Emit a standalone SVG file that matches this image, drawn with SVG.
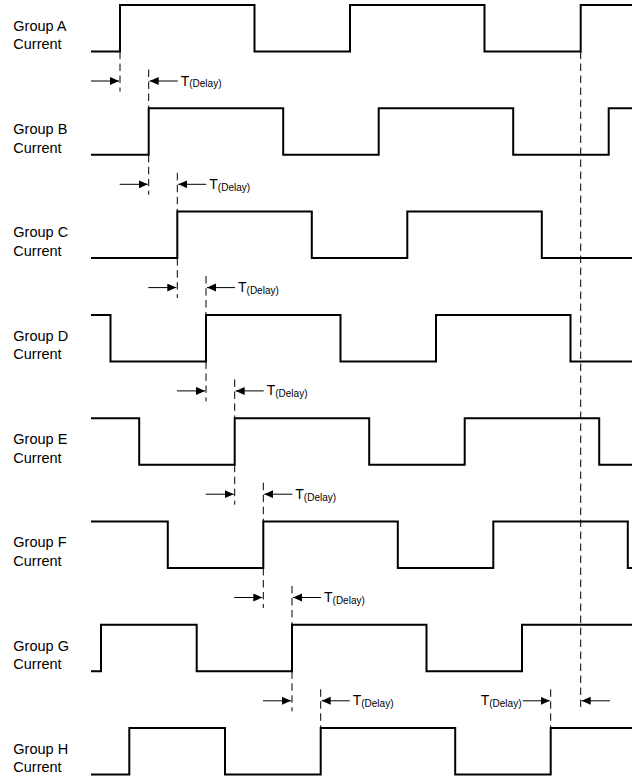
<svg xmlns="http://www.w3.org/2000/svg" width="632" height="777" viewBox="0 0 632 777">
<style>
.wave{fill:none;stroke:#000;stroke-width:2;stroke-linejoin:miter}
.lbl{font-family:"Liberation Sans",Arial,sans-serif;font-size:14.5px;fill:#000}
.dash{fill:none;stroke:#000;stroke-width:1;stroke-dasharray:7.5 4.5}
.arr{fill:none;stroke:#000;stroke-width:1;marker-end:url(#ah)}
.td{font-family:"Liberation Sans",Arial,sans-serif;font-size:14px;fill:#000}
.sub{font-size:10px}
</style>
<defs>
<marker id="ah" markerUnits="userSpaceOnUse" markerWidth="10" markerHeight="9" refX="9" refY="4" orient="auto">
<path d="M0,0 L9,4 L0,8 z" fill="#000"/>
</marker>
</defs>
<rect width="632" height="777" fill="#fff"/>
<g id="group-a">
<text class="lbl" x="13.3" y="30.7">Group A</text><text class="lbl" x="13.3" y="49.3">Current</text>
<path class="wave" d="M91,51.5 H120 V5 H254.5 V51.5 H350 V5 H484.5 V51.5 H580.7 V5 H632"/>
</g>
<g id="group-b">
<text class="lbl" x="13.3" y="134">Group B</text><text class="lbl" x="13.3" y="152.6">Current</text>
<path class="wave" d="M91,154.8 H148.7 V108.3 H283.2 V154.8 H378.7 V108.3 H513.2 V154.8 H608.7 V108.3 H632"/>
</g>
<g id="group-c">
<text class="lbl" x="13.3" y="237.3">Group C</text><text class="lbl" x="13.3" y="255.9">Current</text>
<path class="wave" d="M91,258.1 H177.3 V211.6 H311.8 V258.1 H407.3 V211.6 H541.8 V258.1 H632"/>
</g>
<g id="group-d">
<text class="lbl" x="13.3" y="340.6">Group D</text><text class="lbl" x="13.3" y="359.2">Current</text>
<path class="wave" d="M91,314.9 H110.5 V361.4 H206 V314.9 H340.5 V361.4 H436 V314.9 H570.5 V361.4 H632"/>
</g>
<g id="group-e">
<text class="lbl" x="13.3" y="443.9">Group E</text><text class="lbl" x="13.3" y="462.5">Current</text>
<path class="wave" d="M91,418.2 H139.2 V464.7 H234.7 V418.2 H369.2 V464.7 H464.7 V418.2 H599.2 V464.7 H632"/>
</g>
<g id="group-f">
<text class="lbl" x="13.3" y="547.2">Group F</text><text class="lbl" x="13.3" y="565.8">Current</text>
<path class="wave" d="M91,521.5 H167.8 V568 H263.3 V521.5 H397.8 V568 H493.3 V521.5 H627.8 V568 H632"/>
</g>
<g id="group-g">
<text class="lbl" x="13.3" y="650.5">Group G</text><text class="lbl" x="13.3" y="669.1">Current</text>
<path class="wave" d="M91,671.3 H101 V624.8 H196.7 V671.3 H292 V624.8 H426.5 V671.3 H522 V624.8 H632"/>
</g>
<g id="group-h">
<text class="lbl" x="13.3" y="753.8">Group H</text><text class="lbl" x="13.3" y="772.4">Current</text>
<path class="wave" d="M91,774.6 H129.3 V728.1 H225 V774.6 H320.7 V728.1 H455.2 V774.6 H550.7 V728.1 H632"/>
</g>
<g id="connectors">
<!-- A-B -->
<line class="dash" x1="120" y1="51.5" x2="120" y2="91.5"/>
<line class="dash" x1="148.7" y1="69.5" x2="148.7" y2="108.3"/>
<line class="arr" x1="91" y1="81" x2="119" y2="81"/>
<line class="arr" x1="177.7" y1="81" x2="149.7" y2="81"/>
<text class="td" x="180.7" y="85.5">T<tspan class="sub" dy="1.8">(Delay)</tspan></text>
<!-- B-C -->
<line class="dash" x1="148.7" y1="154.8" x2="148.7" y2="194.8"/>
<line class="dash" x1="177.3" y1="172.8" x2="177.3" y2="211.6"/>
<line class="arr" x1="119.7" y1="184.3" x2="147.7" y2="184.3"/>
<line class="arr" x1="206.3" y1="184.3" x2="178.3" y2="184.3"/>
<text class="td" x="209.3" y="188.8">T<tspan class="sub" dy="1.8">(Delay)</tspan></text>
<!-- C-D -->
<line class="dash" x1="177.3" y1="258.1" x2="177.3" y2="298.1"/>
<line class="dash" x1="206" y1="276.1" x2="206" y2="314.9"/>
<line class="arr" x1="148.3" y1="287.6" x2="176.3" y2="287.6"/>
<line class="arr" x1="235" y1="287.6" x2="207" y2="287.6"/>
<text class="td" x="238" y="292.1">T<tspan class="sub" dy="1.8">(Delay)</tspan></text>
<!-- D-E -->
<line class="dash" x1="206" y1="361.4" x2="206" y2="401.4"/>
<line class="dash" x1="234.7" y1="379.4" x2="234.7" y2="418.2"/>
<line class="arr" x1="177" y1="390.9" x2="205" y2="390.9"/>
<line class="arr" x1="263.7" y1="390.9" x2="235.7" y2="390.9"/>
<text class="td" x="266.7" y="395.4">T<tspan class="sub" dy="1.8">(Delay)</tspan></text>
<!-- E-F -->
<line class="dash" x1="234.7" y1="464.7" x2="234.7" y2="504.7"/>
<line class="dash" x1="263.3" y1="482.7" x2="263.3" y2="521.5"/>
<line class="arr" x1="205.7" y1="494.2" x2="233.7" y2="494.2"/>
<line class="arr" x1="292.3" y1="494.2" x2="264.3" y2="494.2"/>
<text class="td" x="295.3" y="498.7">T<tspan class="sub" dy="1.8">(Delay)</tspan></text>
<!-- F-G -->
<line class="dash" x1="263.3" y1="568" x2="263.3" y2="608"/>
<line class="dash" x1="292" y1="586" x2="292" y2="624.8"/>
<line class="arr" x1="234.3" y1="597.5" x2="262.3" y2="597.5"/>
<line class="arr" x1="321" y1="597.5" x2="293" y2="597.5"/>
<text class="td" x="324" y="602">T<tspan class="sub" dy="1.8">(Delay)</tspan></text>
<!-- G-H -->
<line class="dash" x1="292" y1="671.3" x2="292" y2="711.3"/>
<line class="dash" x1="320.7" y1="689.3" x2="320.7" y2="728.1"/>
<line class="arr" x1="263" y1="700.8" x2="291" y2="700.8"/>
<line class="arr" x1="349.7" y1="700.8" x2="321.7" y2="700.8"/>
<text class="td" x="352.7" y="705.3">T<tspan class="sub" dy="1.8">(Delay)</tspan></text>
<!-- right side markers -->
<line class="dash" x1="550.7" y1="689.3" x2="550.7" y2="728.1"/>
<line class="arr" x1="522.7" y1="700.8" x2="549.7" y2="700.8"/>
<text class="td" x="480.7" y="705.3">T<tspan class="sub" dy="1.8">(Delay)</tspan></text>
<line class="dash" x1="580.7" y1="51.5" x2="580.7" y2="711"/>
<line class="arr" x1="610" y1="700.8" x2="581.7" y2="700.8"/>
</g>
</svg>
